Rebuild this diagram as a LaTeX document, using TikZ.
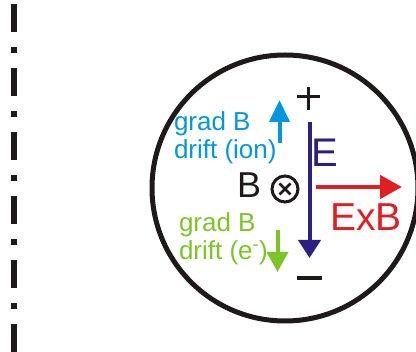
\documentclass[tikz,border=0pt]{standalone}
\usepackage{fontspec}
\setmainfont{Liberation Sans}
\usetikzlibrary{arrows.meta,calc}
\definecolor{ioncyan}{HTML}{0096DC}
\definecolor{elgreen}{HTML}{7DC32A}
\definecolor{efield}{HTML}{2D1E82}
\definecolor{exbred}{HTML}{E11E23}
\definecolor{ink}{HTML}{1E1A19}
\tikzset{
  lbl/.style={anchor=base west, inner sep=0pt, outer sep=0pt},
}
\begin{document}
\begin{tikzpicture}[x=1pt,y=-1pt]
\useasboundingbox (0,0) rectangle (416,352);
\clip (0,0) rectangle (416,352);
% dash-dot axis
\draw[ink, line width=5.5pt, dash pattern=on 28pt off 15pt on 6pt off 15pt] (14,4) -- (14,360);
% plasma cross-section
\draw[ink, line width=5pt] (285,188) circle[radius=133];
% B into the page
\node[lbl, ink, font=\fontsize{36}{40}\selectfont] (B) at (237,198) {B};
\coordinate (bc) at (285,189);
\draw[ink, line width=3pt] (bc) circle[radius=13];
\draw[ink, line width=2.6pt] ($(bc)+(-5.5,-5.5)$) -- ($(bc)+(5.5,5.5)$);
\draw[ink, line width=2.6pt] ($(bc)+(-5.5,5.5)$) -- ($(bc)+(5.5,-5.5)$);
% E field
\coordinate (etop) at (309.5,122);
\coordinate (ebot) at (309.5,258);
\draw[efield, line width=4pt, -{Triangle[width=22pt,length=18pt]}] (etop) -- (ebot);
\node[lbl, efield, font=\fontsize{40}{44}\selectfont] (E) at (311,167) {E};
% plus / minus
\coordinate (pc) at (308.5,97);
\draw[ink, line width=3pt] ($(pc)+(0,-10)$) -- ($(pc)+(0,13)$);
\draw[ink, line width=3pt] ($(pc)+(-11.5,0)$) -- ($(pc)+(11.5,0)$);
\coordinate (ml) at (297,278);
\coordinate (mr) at (322,278);
\draw[ink, line width=4pt] (ml) -- (mr);
% ExB drift
\coordinate (xs) at (316,187);
\coordinate (xe) at (402,187);
\draw[exbred, line width=4.5pt, -{Triangle[width=23pt,length=22pt]}] (xs) -- (xe);
\node[lbl, exbred, font=\fontsize{39}{44}\selectfont] (exb) at (330,231) {ExB};
% ion grad-B drift
\node[lbl, ioncyan, font=\fontsize{26}{28}\selectfont] (ion1) at (174,131) {grad B};
\node[lbl, ioncyan, font=\fontsize{26}{28}\selectfont] (ion2) at (174,159) {drift (ion)};
\coordinate (is) at (279.5,143);
\coordinate (ie) at (279.5,100);
\draw[ioncyan, line width=4pt, -{Triangle[width=20pt,length=22pt]}] (is) -- (ie);
% electron grad-B drift
\node[lbl, elgreen, font=\fontsize{26}{28}\selectfont] (el1) at (179,232) {grad B};
\node[lbl, elgreen, font=\fontsize{26}{28}\selectfont] (el2) at (179,260) {drift (e\textsuperscript{-})};
\coordinate (gs) at (277.5,230);
\coordinate (ge) at (277.5,272);
\draw[elgreen, line width=4pt, -{Triangle[width=21pt,length=20pt]}] (gs) -- (ge);
\end{tikzpicture}
\end{document}
